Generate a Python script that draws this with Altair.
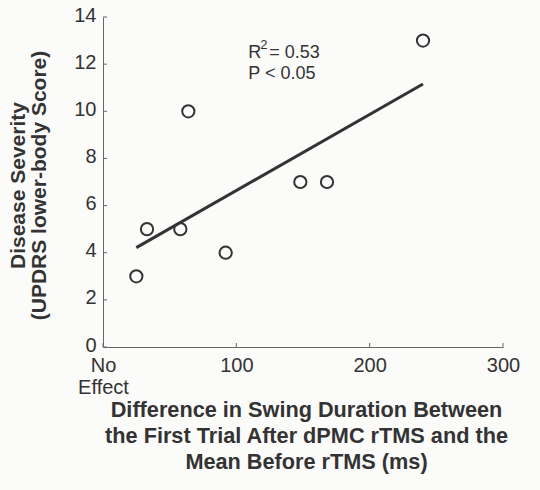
import altair as alt
import pandas as pd

# data
swing_ms = [25, 33, 58, 64, 92, 148, 168, 240]
severity = [3, 5, 5, 10, 4, 7, 7, 13]
x_ticks = [0, 100, 200, 300]
y_ticks = [0, 2, 4, 6, 8, 10, 12, 14]
ann_x = [109]
r2_y = [12.25]
p_y = [11.35]

df = pd.DataFrame({"x": swing_ms, "y": severity})
W, H = 400, 330
FONT = "Liberation Sans"
INK = "#333333"

xs = alt.Scale(domain=[0, 300], nice=False, zero=False)
ys = alt.Scale(domain=[0, 14], nice=False, zero=False)

x_axis = alt.Axis(
    values=x_ticks, ticks=False, grid=False, domainColor="#666666", domainWidth=1,
    labelFont=FONT, labelFontSize=20, labelColor=INK,
    labelExpr="datum.value == 0 ? ['No', 'Effect'] : datum.label",
    labelLineHeight=22, labelBaseline="top", labelPadding=8, labelFlush=False,
    title=["Difference in Swing Duration Between",
           "the First Trial After dPMC rTMS and the",
           "Mean Before rTMS (ms)"],
    titleFont=FONT, titleFontSize=21.7, titleFontWeight="bold", titleColor=INK,
    titleLineHeight=26, titleX=203, titleY=52, titleBaseline="top", titleAlign="center",
)
y_axis = alt.Axis(
    values=y_ticks, ticks=False, grid=False, domainColor="#666666", domainWidth=1,
    labelFont=FONT, labelFontSize=20, labelColor=INK, labelPadding=7, labelOffset=-2,
    title=["Disease Severity", "(UPDRS lower-body Score)"],
    titleFont=FONT, titleFontSize=21, titleFontWeight="bold", titleColor=INK,
    titleLineHeight=21, titleX=-96, titleY=168, titleBaseline="top", titleAlign="center",
    titleAngle=270,
)

points = alt.Chart(df).mark_point(
    shape="circle", filled=False, size=150, strokeWidth=2, color=INK, opacity=1
).encode(
    x=alt.X("x:Q", scale=xs, axis=x_axis),
    y=alt.Y("y:Q", scale=ys, axis=y_axis),
)

fit = alt.Chart(df).transform_regression("x", "y").mark_line(
    color=INK, strokeWidth=3
).encode(
    x=alt.X("x:Q", scale=xs),
    y=alt.Y("y:Q", scale=ys),
)

ytick = alt.Chart(pd.DataFrame({"v": y_ticks})).mark_rule(color="#666666").encode(
    y=alt.Y("v:Q", scale=ys), x=alt.value(0), x2=alt.value(4)
)
xtick = alt.Chart(pd.DataFrame({"v": x_ticks})).mark_rule(color="#666666").encode(
    x=alt.X("v:Q", scale=xs), y=alt.value(H), y2=alt.value(H - 4)
)

ann = pd.DataFrame({"x": ann_x, "ry": r2_y, "py": p_y})
t_r = alt.Chart(ann).mark_text(
    text="R", align="left", baseline="alphabetic", font=FONT, fontSize=18, color=INK
).encode(x=alt.X("x:Q", scale=xs), y=alt.Y("ry:Q", scale=ys))
t_2 = alt.Chart(ann).mark_text(
    text="2", align="left", baseline="alphabetic", font=FONT, fontSize=13, color=INK, dx=12, dy=-9
).encode(x=alt.X("x:Q", scale=xs), y=alt.Y("ry:Q", scale=ys))
t_eq = alt.Chart(ann).mark_text(
    text="= 0.53", align="left", baseline="alphabetic", font=FONT, fontSize=18, color=INK, dx=21
).encode(x=alt.X("x:Q", scale=xs), y=alt.Y("ry:Q", scale=ys))
t_p = alt.Chart(ann).mark_text(
    text="P < 0.05", align="left", baseline="alphabetic", font=FONT, fontSize=18, color=INK
).encode(x=alt.X("x:Q", scale=xs), y=alt.Y("py:Q", scale=ys))

chart = alt.layer(points, fit, ytick, xtick, t_r, t_2, t_eq, t_p).properties(
    width=W, height=H,
    autosize=alt.AutoSizeParams(type="none"),
    padding={"left": 103, "top": 17, "right": 37, "bottom": 143},
    background="#fbfbfa",
).configure_view(stroke=None)

chart.save("out.html", embed_options={"renderer": "svg", "actions": False})
